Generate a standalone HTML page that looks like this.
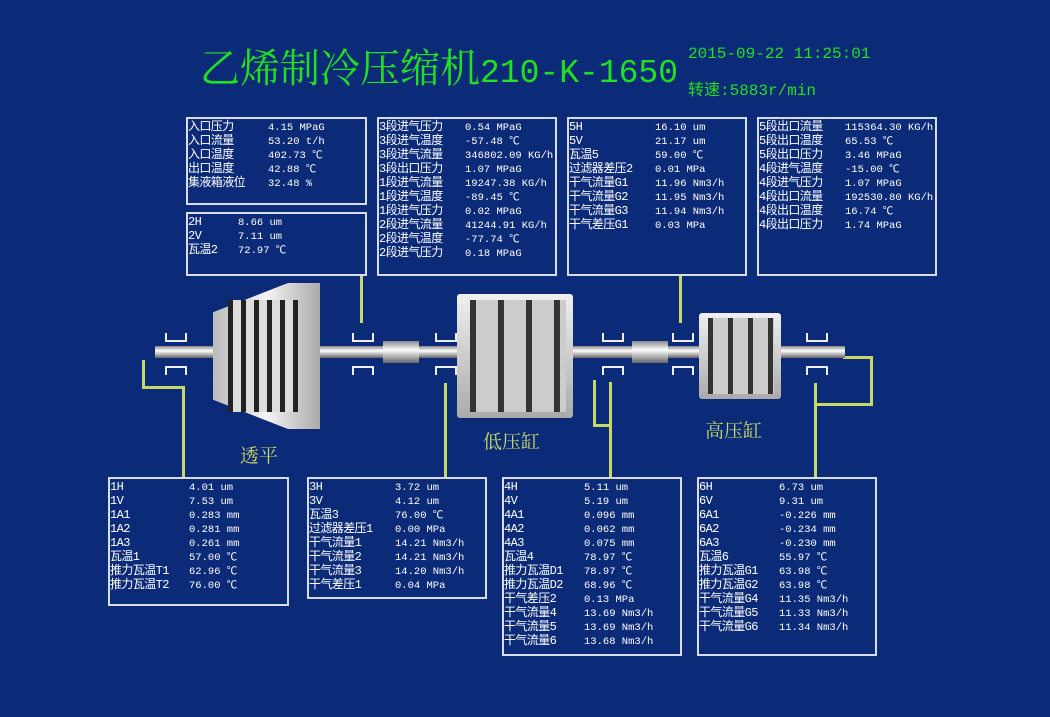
<!DOCTYPE html>
<html><head><meta charset="utf-8"><style>
body{margin:0;width:1050px;height:717px;background:#0b2a78;position:relative;overflow:hidden;font-family:"Liberation Mono","Noto Sans CJK SC",monospace;}
.p{position:absolute;border:2px solid #d8dce8;box-sizing:border-box;color:#fff;font-size:12px;line-height:14px;padding-top:1px;}
.p div{white-space:nowrap;position:relative;height:14px;letter-spacing:-0.6px}
.p span{position:absolute;top:1px;font-size:10.5px;line-height:14px;letter-spacing:0}
.y{position:absolute;background:#c8d868}
.g{position:absolute;background:linear-gradient(#888,#fff 40%,#ccc 60%,#666)}
.t{position:absolute;color:#c8d868;font-family:"Noto Serif CJK SC",serif;font-size:19px}
.bt{position:absolute;width:18px;height:7px;border:2px solid #eee;border-top:none}
.bb{position:absolute;width:18px;height:7px;border:2px solid #eee;border-bottom:none}
</style></head><body>
<div style="position:absolute;left:200px;top:42px;color:#20e020;font-size:40px;font-family:'Noto Serif CJK SC',serif;white-space:nowrap;line-height:48px">乙烯制冷压缩机<span style="font-family:'Liberation Mono',monospace;font-size:33px">210-K-1650</span></div>
<div style="position:absolute;left:688px;top:45px;color:#20e020;font-size:16px;white-space:nowrap">2015-09-22 11:25:01</div>
<div style="position:absolute;left:688px;top:76px;color:#20e020;font-size:16px;white-space:nowrap">转速:5883r/min</div>

<div class="y" style="left:360px;top:275px;width:3px;height:48px"></div>
<div class="y" style="left:679px;top:275px;width:3px;height:48px"></div>
<div class="y" style="left:142px;top:360px;width:3px;height:29px"></div>
<div class="y" style="left:142px;top:386px;width:43px;height:3px"></div>
<div class="y" style="left:182px;top:386px;width:3px;height:92px"></div>
<div class="y" style="left:444px;top:383px;width:3px;height:95px"></div>
<div class="y" style="left:593px;top:380px;width:3px;height:46px"></div>
<div class="y" style="left:593px;top:424px;width:18px;height:3px"></div>
<div class="y" style="left:609px;top:382px;width:3px;height:96px"></div>
<div class="y" style="left:814px;top:383px;width:3px;height:95px"></div>
<div class="y" style="left:814px;top:403px;width:59px;height:3px"></div>
<div class="y" style="left:870px;top:356px;width:3px;height:50px"></div>
<div class="y" style="left:843px;top:356px;width:30px;height:3px"></div>

<div class="g" style="left:155px;top:346px;width:690px;height:12px"></div>
<div style="position:absolute;left:213px;top:283px;width:107px;height:146px;background:linear-gradient(90deg,#bbb,#f4f4f4 50%,#aaa);clip-path:polygon(0 20%,70% 0,100% 0,100% 100%,70% 100%,0 80%)"></div>
<div style="position:absolute;left:228px;top:300px;width:70px;height:112px;background:repeating-linear-gradient(90deg,#222 0 5px,#ddd 5px 13px);"></div>
<div style="position:absolute;left:457px;top:294px;width:116px;height:124px;background:linear-gradient(#f0f0f0,#aaa);border-radius:3px"></div>
<div style="position:absolute;left:470px;top:300px;width:96px;height:112px;background:repeating-linear-gradient(90deg,#333 0 6px,#ccc 6px 28px)"></div>
<div style="position:absolute;left:699px;top:313px;width:82px;height:86px;background:linear-gradient(#f0f0f0,#aaa);border-radius:3px"></div>
<div style="position:absolute;left:708px;top:318px;width:66px;height:76px;background:repeating-linear-gradient(90deg,#333 0 5px,#ccc 5px 20px)"></div>
<div class="g" style="left:383px;top:341px;width:36px;height:22px"></div>
<div class="g" style="left:632px;top:341px;width:36px;height:22px"></div>
<div class="bt" style="left:165px;top:333px"></div><div class="bb" style="left:165px;top:366px"></div>
<div class="bt" style="left:352px;top:333px"></div><div class="bb" style="left:352px;top:366px"></div>
<div class="bt" style="left:435px;top:333px"></div><div class="bb" style="left:435px;top:366px"></div>
<div class="bt" style="left:602px;top:333px"></div><div class="bb" style="left:602px;top:366px"></div>
<div class="bt" style="left:672px;top:333px"></div><div class="bb" style="left:672px;top:366px"></div>
<div class="bt" style="left:806px;top:333px"></div><div class="bb" style="left:806px;top:366px"></div>

<div class="t" style="left:240px;top:441px">透平</div>
<div class="t" style="left:483px;top:427px">低压缸</div>
<div class="t" style="left:705px;top:416px">高压缸</div>

<div class="p" style="left:186px;top:117px;width:181px;height:88px">
<div>入口压力<span style="left:80px">4.15 MPaG</span></div>
<div>入口流量<span style="left:80px">53.20 t/h</span></div>
<div>入口温度<span style="left:80px">402.73 ℃</span></div>
<div>出口温度<span style="left:80px">42.88 ℃</span></div>
<div>集液箱液位<span style="left:80px">32.48 %</span></div>
</div>
<div class="p" style="left:186px;top:212px;width:181px;height:64px">
<div>2H<span style="left:50px">8.66 um</span></div>
<div>2V<span style="left:50px">7.11 um</span></div>
<div>瓦温2<span style="left:50px">72.97 ℃</span></div>
</div>
<div class="p" style="left:377px;top:117px;width:180px;height:159px">
<div>3段进气压力<span style="left:86px">0.54 MPaG</span></div>
<div>3段进气温度<span style="left:86px">-57.48 ℃</span></div>
<div>3段进气流量<span style="left:86px">346802.09 KG/h</span></div>
<div>3段出口压力<span style="left:86px">1.07 MPaG</span></div>
<div>1段进气流量<span style="left:86px">19247.38 KG/h</span></div>
<div>1段进气温度<span style="left:86px">-89.45 ℃</span></div>
<div>1段进气压力<span style="left:86px">0.02 MPaG</span></div>
<div>2段进气流量<span style="left:86px">41244.91 KG/h</span></div>
<div>2段进气温度<span style="left:86px">-77.74 ℃</span></div>
<div>2段进气压力<span style="left:86px">0.18 MPaG</span></div>
</div>
<div class="p" style="left:567px;top:117px;width:180px;height:159px">
<div>5H<span style="left:86px">16.10 um</span></div>
<div>5V<span style="left:86px">21.17 um</span></div>
<div>瓦温5<span style="left:86px">59.00 ℃</span></div>
<div>过滤器差压2<span style="left:86px">0.01 MPa</span></div>
<div>干气流量G1<span style="left:86px">11.96 Nm3/h</span></div>
<div>干气流量G2<span style="left:86px">11.95 Nm3/h</span></div>
<div>干气流量G3<span style="left:86px">11.94 Nm3/h</span></div>
<div>干气差压G1<span style="left:86px">0.03 MPa</span></div>
</div>
<div class="p" style="left:757px;top:117px;width:180px;height:159px">
<div>5段出口流量<span style="left:86px">115364.30 KG/h</span></div>
<div>5段出口温度<span style="left:86px">65.53 ℃</span></div>
<div>5段出口压力<span style="left:86px">3.46 MPaG</span></div>
<div>4段进气温度<span style="left:86px">-15.00 ℃</span></div>
<div>4段进气压力<span style="left:86px">1.07 MPaG</span></div>
<div>4段出口流量<span style="left:86px">192530.80 KG/h</span></div>
<div>4段出口温度<span style="left:86px">16.74 ℃</span></div>
<div>4段出口压力<span style="left:86px">1.74 MPaG</span></div>
</div>

<div class="p" style="left:108px;top:477px;width:181px;height:129px">
<div>1H<span style="left:79px">4.01 um</span></div>
<div>1V<span style="left:79px">7.53 um</span></div>
<div>1A1<span style="left:79px">0.283 mm</span></div>
<div>1A2<span style="left:79px">0.281 mm</span></div>
<div>1A3<span style="left:79px">0.261 mm</span></div>
<div>瓦温1<span style="left:79px">57.00 ℃</span></div>
<div>推力瓦温T1<span style="left:79px">62.96 ℃</span></div>
<div>推力瓦温T2<span style="left:79px">76.00 ℃</span></div>
</div>
<div class="p" style="left:307px;top:477px;width:180px;height:122px">
<div>3H<span style="left:86px">3.72 um</span></div>
<div>3V<span style="left:86px">4.12 um</span></div>
<div>瓦温3<span style="left:86px">76.00 ℃</span></div>
<div>过滤器差压1<span style="left:86px">0.00 MPa</span></div>
<div>干气流量1<span style="left:86px">14.21 Nm3/h</span></div>
<div>干气流量2<span style="left:86px">14.21 Nm3/h</span></div>
<div>干气流量3<span style="left:86px">14.20 Nm3/h</span></div>
<div>干气差压1<span style="left:86px">0.04 MPa</span></div>
</div>
<div class="p" style="left:502px;top:477px;width:180px;height:179px">
<div>4H<span style="left:80px">5.11 um</span></div>
<div>4V<span style="left:80px">5.19 um</span></div>
<div>4A1<span style="left:80px">0.096 mm</span></div>
<div>4A2<span style="left:80px">0.062 mm</span></div>
<div>4A3<span style="left:80px">0.075 mm</span></div>
<div>瓦温4<span style="left:80px">78.97 ℃</span></div>
<div>推力瓦温D1<span style="left:80px">78.97 ℃</span></div>
<div>推力瓦温D2<span style="left:80px">68.96 ℃</span></div>
<div>干气差压2<span style="left:80px">0.13 MPa</span></div>
<div>干气流量4<span style="left:80px">13.69 Nm3/h</span></div>
<div>干气流量5<span style="left:80px">13.69 Nm3/h</span></div>
<div>干气流量6<span style="left:80px">13.68 Nm3/h</span></div>
</div>
<div class="p" style="left:697px;top:477px;width:180px;height:179px">
<div>6H<span style="left:80px">6.73 um</span></div>
<div>6V<span style="left:80px">9.31 um</span></div>
<div>6A1<span style="left:80px">-0.226 mm</span></div>
<div>6A2<span style="left:80px">-0.234 mm</span></div>
<div>6A3<span style="left:80px">-0.230 mm</span></div>
<div>瓦温6<span style="left:80px">55.97 ℃</span></div>
<div>推力瓦温G1<span style="left:80px">63.98 ℃</span></div>
<div>推力瓦温G2<span style="left:80px">63.98 ℃</span></div>
<div>干气流量G4<span style="left:80px">11.35 Nm3/h</span></div>
<div>干气流量G5<span style="left:80px">11.33 Nm3/h</span></div>
<div>干气流量G6<span style="left:80px">11.34 Nm3/h</span></div>
</div>
</body></html>
